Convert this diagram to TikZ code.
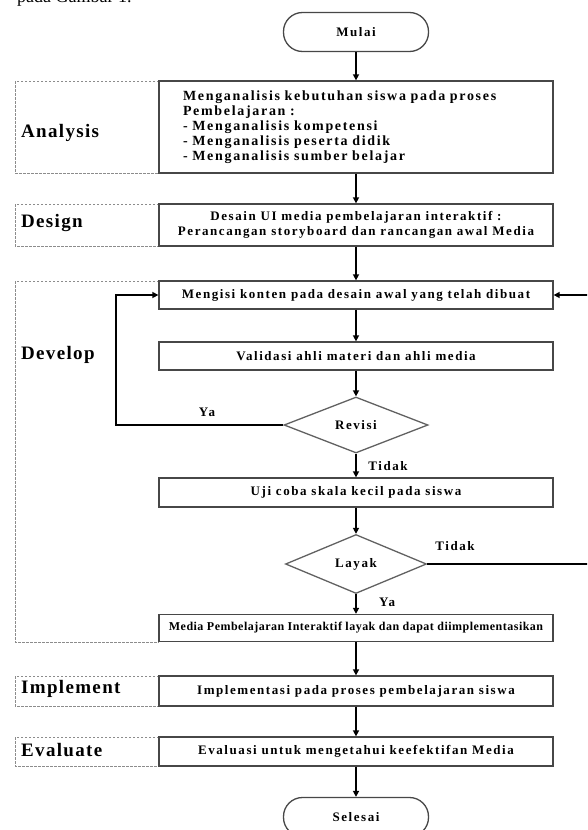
\documentclass[tikz,border=0pt]{standalone}
\usepackage{fontspec}
\setmainfont{Liberation Serif}
\newfontfamily\bodyfont[LetterSpace=12]{Liberation Serif}
\newfontfamily\labfont[LetterSpace=7]{Liberation Serif}
\newfontfamily\medfont[LetterSpace=4]{Liberation Serif}
\usetikzlibrary{arrows.meta,shapes.geometric}
\begin{document}
\begin{tikzpicture}[x=1pt,y=-1pt,
  box/.style={draw=black!72,line width=1.3pt,fill=white,minimum width=394pt,inner sep=0pt,font=\bodyfont\bfseries\fontsize{13}{15}\selectfont},
  term/.style={draw=black!72,line width=1.3pt,fill=white,rounded corners=19pt,minimum width=145pt,minimum height=39pt,inner sep=0pt,font=\bodyfont\bfseries\fontsize{13}{15}\selectfont},
  dec/.style={draw=black!62,line width=1.3pt,fill=white,diamond,aspect=2.57,minimum width=144pt,minimum height=56pt,inner sep=0pt,font=\bodyfont\bfseries\fontsize{13}{15}\selectfont},
  arr/.style={line width=2pt,-{Triangle[length=6pt,width=6pt]}},
  grp/.style={draw=black!45,line width=0.6pt,dash pattern=on 2.5pt off 1.5pt},
  phase/.style={anchor=west,inner sep=0pt,font=\labfont\bfseries\fontsize{19}{19}\selectfont},
  lab/.style={inner sep=0pt,font=\bodyfont\bfseries\fontsize{13}{13}\selectfont}
]
\useasboundingbox (0,0) rectangle (587,830);
\clip (0,0) rectangle (587,830);

\node[anchor=base west,inner sep=0pt,font=\fontsize{18}{18}\selectfont] (cap) at (17,2) {pada Gambar 1.};

% phase groups
\draw[grp] (159,81) -- (15,81) -- (15,173) -- (159,173);
\draw[grp] (159,204) -- (15,204) -- (15,246) -- (159,246);
\draw[grp] (159,281) -- (15,281) -- (15,642) -- (159,642);
\draw[grp] (159,676) -- (15,676) -- (15,706) -- (159,706);
\draw[grp] (159,737) -- (15,737) -- (15,766) -- (159,766);

\node[phase] (pa) at (21,133) {Analysis};
\node[phase] (pd) at (21,223) {Design};
\node[phase] (pv) at (21,355) {Develop};
\node[phase] (pi) at (21,689) {Implement};
\node[phase] (pe) at (21,750) {Evaluate};

% nodes
\node[term] (mulai) at (356,32) {Mulai};
\node[box,minimum height=92pt,text width=346pt,align=left,font=\bodyfont\bfseries\fontsize{14}{15}\selectfont] (ana) at (356,127) {Menganalisis kebutuhan siswa pada proses\\Pembelajaran :\\- Menganalisis kompetensi\\- Menganalisis peserta didik\\- Menganalisis sumber belajar};
\node[box,minimum height=42pt,align=center] (des) at (356,225) {Desain UI media pembelajaran interaktif :\\Perancangan storyboard dan rancangan awal Media};
\node[box,minimum height=28pt] (isi) at (356,295) {Mengisi konten pada desain awal yang telah dibuat};
\node[box,minimum height=28pt] (val) at (356,356) {Validasi ahli materi dan ahli media};
\node[dec] (rev) at (356,425) {Revisi};
\node[box,minimum height=29pt] (uji) at (356,492.5) {Uji coba skala kecil pada siswa};
\node[dec,minimum width=141pt,minimum height=59pt,aspect=2.39] (lay) at (356,564) {Layak};
\node[box,minimum height=27pt,font=\medfont\bfseries\fontsize{12}{14}\selectfont] (med) at (356,628) {Media Pembelajaran Interaktif layak dan dapat diimplementasikan};
\node[box,minimum height=30pt] (imp) at (356,691) {Implementasi pada proses pembelajaran siswa};
\node[box,minimum height=29pt] (eva) at (356,751.5) {Evaluasi untuk mengetahui keefektifan Media};
\node[term] (sel) at (356,817) {Selesai};

% connectors
\draw[arr] (mulai) -- (ana);
\draw[arr] (ana) -- (des);
\draw[arr] (des) -- (isi);
\draw[arr] (isi) -- (val);
\draw[arr] (val) -- (rev);
\draw[arr] (rev) -- (uji);
\draw[arr] (uji) -- (lay);
\draw[arr] (lay) -- (med);
\draw[arr] (med) -- (imp);
\draw[arr] (imp) -- (eva);
\draw[arr] (eva) -- (sel);

\coordinate (yl) at (116,425);
\draw[arr] (rev.west) -- (yl) |- (isi.west);
\coordinate (tr) at (600,564);
\draw[arr] (lay.east) -- (tr) |- (isi.east);

\node[lab] (ya1) at (207,412) {Ya};
\node[lab] (t1) at (388,466) {Tidak};
\node[lab] (t2) at (455,546) {Tidak};
\node[lab] (ya2) at (387,602) {Ya};
\end{tikzpicture}
\end{document}
